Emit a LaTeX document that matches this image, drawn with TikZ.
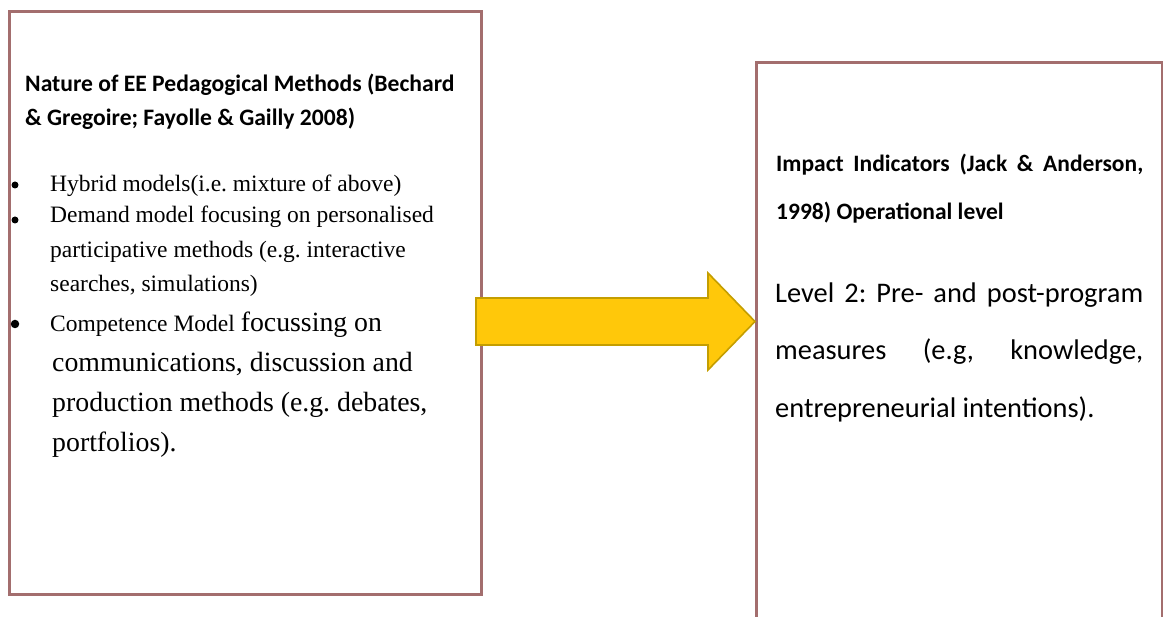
\documentclass[tikz,border=0pt]{standalone}
\usepackage{fontspec}
\setmainfont{Liberation Serif}
\newfontfamily\headfont{Carlito}
\usetikzlibrary{calc}
\frenchspacing
\definecolor{boxline}{RGB}{163,110,110}
\definecolor{boxshade}{RGB}{214,180,180}
\definecolor{arrowfill}{RGB}{255,200,10}
\definecolor{arrowline}{RGB}{196,158,0}
\begin{document}
\begin{tikzpicture}[x=1pt,y=-1pt,
  panel/.style={draw=boxline, line width=2.6pt, fill=white, inner sep=0pt, anchor=north west},
  txt/.style={anchor=base west, inner sep=0pt, text=black},
  dot/.style={circle, fill=black, inner sep=0pt, minimum size=7pt}]
\useasboundingbox (0,0) rectangle (1163,617);
\clip (0,0) rectangle (1163,617);

% the two panels, with a soft shadow line outside
\draw[boxshade, line width=1.2pt] (9.8,11.8) rectangle (482,595);
\node[panel, minimum width=472pt, minimum height=583pt] (L) at (8,10) {};
\draw[boxshade, line width=1.2pt] (756.8,62.8) rectangle (1163,640);
\node[panel, minimum width=406pt, minimum height=580pt] (R) at (755,61) {};

% left panel: heading
\begin{scope}[every node/.append style={txt, font=\headfont\bfseries\fontsize{23.6}{28}\selectfont}]
\node (h1) at (25,92) {Nature of EE Pedagogical Methods (Bechard};
\node (h2) at (25,126) {\& Gregoire; Fayolle \& Gailly 2008)};
\end{scope}

% left panel: bullet list
\node[dot] (b1) at (15,185) {};
\node[dot] (b2) at (15,220) {};
\node[dot, minimum size=8.5pt] (b3) at (15,324) {};
\begin{scope}[every node/.append style={txt, font=\fontsize{23.5}{26}\selectfont}]
\node (l1) at (50,192) {Hybrid models(i.e. mixture of above)};
\node (l2) at (50,223) {Demand model focusing on personalised};
\node (l3) at (50,258) {participative methods (e.g. interactive};
\node (l4) at (50,292) {searches, simulations)};
\node (l5) at (50,332) {Competence Model {\fontsize{27.8}{30}\selectfont focussing on}};
\end{scope}
\begin{scope}[every node/.append style={txt, font=\fontsize{27.8}{30}\selectfont}]
\node (l6) at (52,372) {communications, discussion and};
\node (l7) at (52,412) {production methods (e.g. debates,};
\node (l8) at (52,452) {portfolios).};
\end{scope}

% right panel
\begin{scope}[every node/.append style={txt, font=\headfont\bfseries\fontsize{23.5}{28}\selectfont}]
\node (r1) at (776,172) {\makebox[367pt][s]{Impact Indicators (Jack \& Anderson,}};
\node (r2) at (776,220) {1998) Operational level};
\end{scope}
\begin{scope}[every node/.append style={txt, font=\headfont\fontsize{28.4}{32}\selectfont}]
\node (r3) at (775,303) {\makebox[368pt][s]{Level 2: Pre- and post-program}};
\node (r4) at (775,360) {\makebox[368pt][s]{measures (e.g, knowledge,}};
\node (r5) at (775,418) {entrepreneurial intentions).};
\end{scope}

% block arrow from the left panel to the right panel
\coordinate (tail) at (476,321.5);
\coordinate (tip) at (R.west |- tail);
\coordinate (neck) at ($(tip)+(-47,0)$);
\filldraw[fill=arrowfill, draw=arrowline, line width=1.6pt, line join=miter]
  ($(tail)+(0,-23.5)$) -- ($(neck)+(0,-23.5)$) -- ($(neck)+(0,-48.5)$) -- (tip)
  -- ($(neck)+(0,48.5)$) -- ($(neck)+(0,23.5)$) -- ($(tail)+(0,23.5)$) -- cycle;
\end{tikzpicture}
\end{document}
